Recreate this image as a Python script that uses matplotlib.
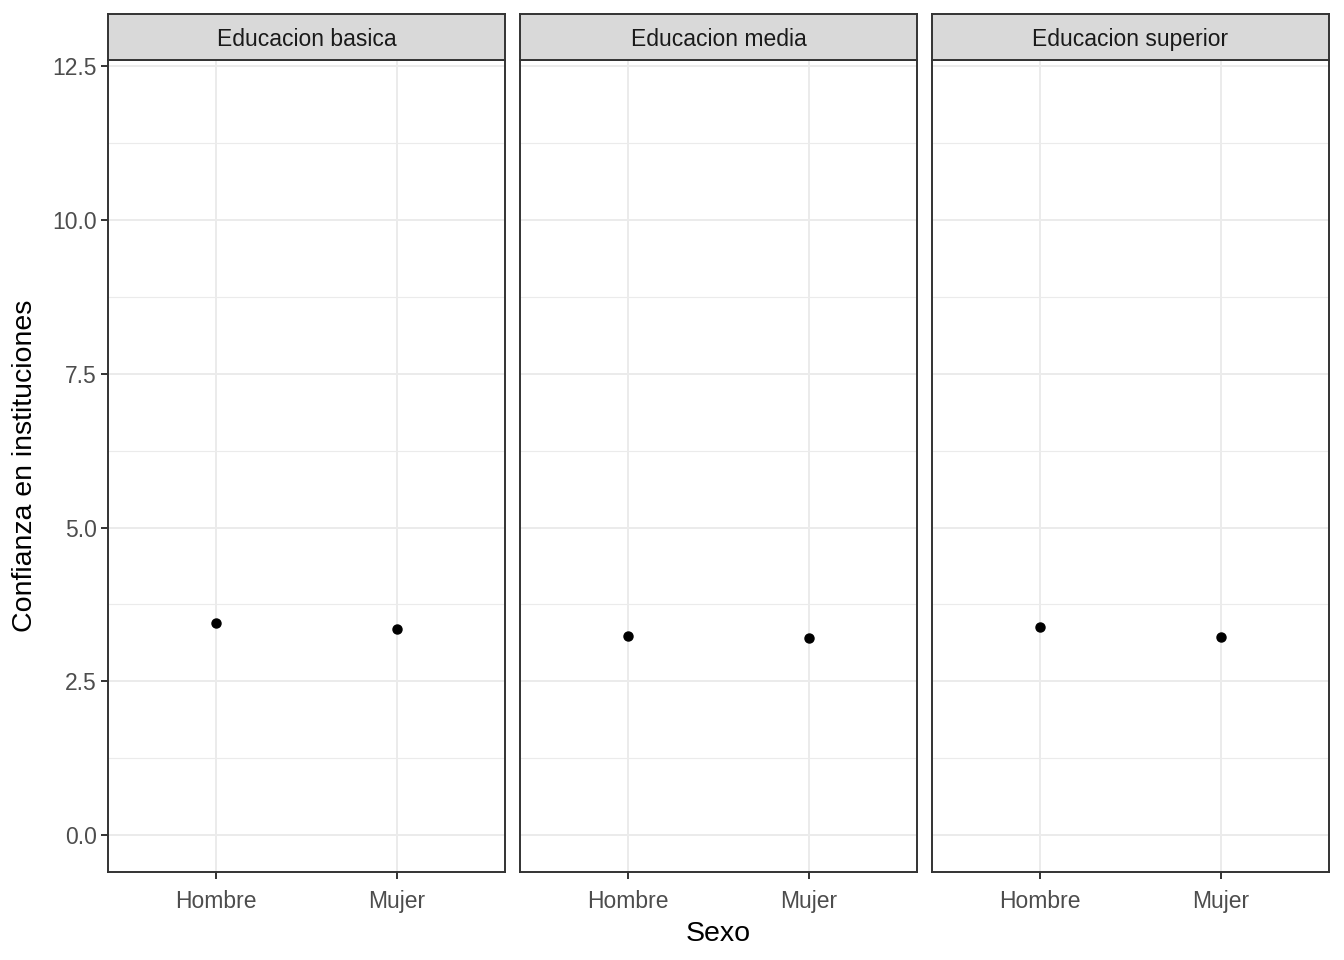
import matplotlib
matplotlib.use("Agg")
import matplotlib.pyplot as plt
from matplotlib.patches import Rectangle

plt.rcParams['font.family'] = ['Liberation Sans', 'DejaVu Sans']

# data
niveles = ["Educacion basica", "Educacion media", "Educacion superior"]
sexo = ["Hombre", "Mujer"]
confianza_basica = [3.45, 3.35]
confianza_media = [3.24, 3.21]
confianza_superior = [3.38, 3.22]
valores = [confianza_basica, confianza_media, confianza_superior]

y_ticks = [0.0, 2.5, 5.0, 7.5, 10.0, 12.5]
y_minor = [1.25, 3.75, 6.25, 8.75, 11.25]

W, H = 1344, 960
fig = plt.figure(figsize=(W / 100, H / 100), dpi=100)

panel_left = [108, 520, 932]
panel_w = 397
panel_top, panel_bot = 60, 872
strip_top = 14

grid_col = "#EBEBEB"
dark = "#333333"

for i, (nivel, vals) in enumerate(zip(niveles, valores)):
    x0 = panel_left[i]
    ax = fig.add_axes([x0 / W, (H - panel_bot) / H, panel_w / W, (panel_bot - panel_top) / H])
    xs = list(range(1, len(sexo) + 1))
    ax.set_xlim(0.4, 2.6)
    ax.set_ylim(-0.6, 12.6)
    for y in y_minor:
        ax.axhline(y, color=grid_col, lw=0.8, zorder=0)
    for y in y_ticks:
        ax.axhline(y, color=grid_col, lw=1.4, zorder=0)
    for x in xs:
        ax.axvline(x, color=grid_col, lw=1.4, zorder=0)
    ax.plot(xs, vals, "o", color="black", ms=6.5, zorder=3, linestyle="none")

    ax.set_xticks(xs)
    ax.set_xticklabels(sexo)
    ax.set_yticks(y_ticks)
    ax.tick_params(axis="both", colors=dark, labelcolor="#4D4D4D", labelsize=16.5,
                   length=5, width=1.4)
    ax.tick_params(axis="x", pad=8)
    ax.tick_params(axis="y", pad=3)
    if i == 0:
        ax.set_yticklabels([f"{v:.1f}" for v in y_ticks])
        ax.set_ylabel("Confianza en instituciones", fontsize=20.5, labelpad=10)
    else:
        ax.tick_params(axis="y", left=False, labelleft=False)
    if i == 1:
        ax.set_xlabel("Sexo", fontsize=20.5, labelpad=6)
    for sp in ax.spines.values():
        sp.set_color(dark)
        sp.set_linewidth(1.4)

    sax = fig.add_axes([x0 / W, (H - panel_top) / H, panel_w / W, (panel_top - strip_top) / H])
    sax.set_xlim(0, 1)
    sax.set_ylim(0, 1)
    sax.add_patch(Rectangle((0, 0), 1, 1, facecolor="#D9D9D9", edgecolor="none"))
    sax.set_xticks([])
    sax.set_yticks([])
    for sp in sax.spines.values():
        sp.set_color(dark)
        sp.set_linewidth(1.4)
    sax.text(0.5, 0.45, nivel, ha="center", va="center", fontsize=16.5, color="#1A1A1A")

fig.savefig("out.png", dpi=100)
